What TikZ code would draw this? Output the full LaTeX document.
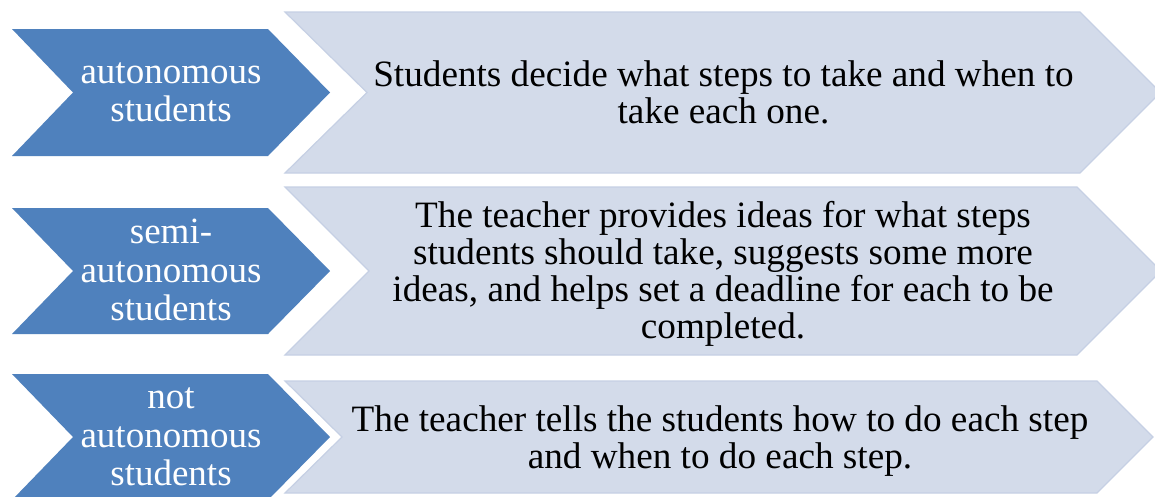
\documentclass[tikz,border=0pt]{standalone}
\usepackage{fontspec}
\setmainfont{Liberation Serif}
\definecolor{chevblue}{HTML}{4F81BD}
\definecolor{chevlight}{HTML}{D3DBEA}
\definecolor{chevedge}{HTML}{C6D0E4}
\tikzset{
  bluechev/.style={fill=chevblue},
  lightchev/.style={fill=chevlight, draw=chevedge, line width=1.2pt, line join=miter},
  bluetext/.style={text=white, align=center, inner sep=0pt, font=\fontsize{37}{38.5}\selectfont},
  lighttext/.style={text=black, align=center, inner sep=0pt, font=\fontsize{37.2}{37.2}\selectfont}
}
\begin{document}
\begin{tikzpicture}[x=1pt,y=-1pt]
\useasboundingbox (0,0) rectangle (1155,496);
\clip (0,0) rectangle (1155,496);
\fill[white] (0,0) rectangle (1155,496);
% row 1
\path[lightchev] (285,12) -- (1080,12) -- (1160.5,92.5) -- (1080,173) -- (285,173) -- (367,92.5) -- cycle;
\path[bluechev] (12,29) -- (268,29) -- (330,92.5) -- (268,156) -- (12,156) -- (73,92.5) -- cycle;
% row 2
\path[lightchev] (285,187) -- (1077,187) -- (1161,271) -- (1077,355) -- (285,355) -- (369,271) -- cycle;
\path[bluechev] (12,208) -- (268,208) -- (330,271) -- (268,334) -- (12,334) -- (73,271) -- cycle;
% row 3
\path[lightchev] (285,381) -- (1097,381) -- (1153,437) -- (1097,493) -- (285,493) -- (342,437) -- cycle;
\path[bluechev] (12,374) -- (268,374) -- (330,437) -- (268,500) -- (12,500) -- (73,437) -- cycle;
% texts
\node[bluetext] (b1) at (171,92.5) {autonomous\\students};
\node[bluetext] (b2) at (171,270) {semi-\\autonomous\\students};
\node[bluetext] (b3) at (171,437) {not\\autonomous\\students};
\node[lighttext] (t1) at (723.5,92.5) {Students decide what steps to take and when to\\take each one.};
\node[lighttext] (t2) at (723,274) {The teacher provides ideas for what steps\\students should take, suggests some more\\ideas, and helps set a deadline for each to be\\completed.};
\node[lighttext] (t3) at (720,441) {The teacher tells the students how to do each step\\and when to do each step.};
\end{tikzpicture}
\end{document}
